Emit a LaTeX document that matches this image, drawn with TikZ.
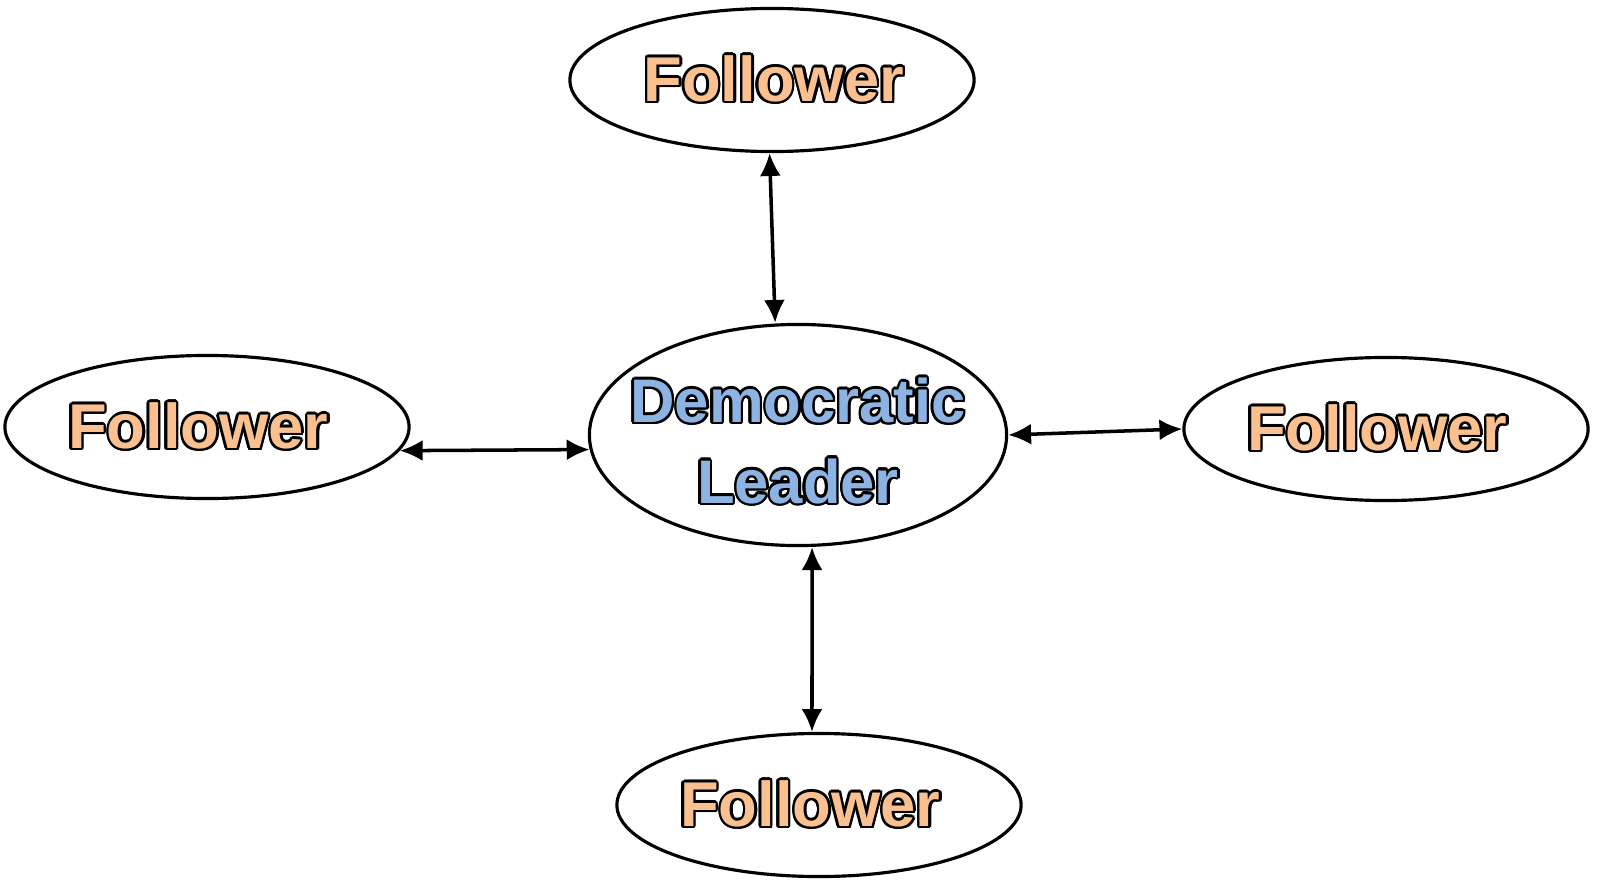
\documentclass[tikz,border=0pt]{standalone}
\usepackage{fontspec}
\setmainfont{Liberation Sans}
\usepackage{contour}
\contourlength{0.7pt}
\usetikzlibrary{shapes.geometric,arrows.meta}
\definecolor{peach}{HTML}{FAC08F}
\definecolor{cornflower}{HTML}{8DB3E2}

\begin{document}
\begin{tikzpicture}[
  x=0.01cm, y=-0.01cm,
  line join=round,
  bubble/.style={draw, ellipse, line width=0.9pt, inner sep=0pt},
  follower/.style={bubble, minimum width=4.04cm, minimum height=1.43cm,
    text=peach, font=\bfseries\fontsize{18}{22}\selectfont},
  leader/.style={bubble, minimum width=4.17cm, minimum height=2.21cm},
  leadtext/.style={text=cornflower, align=center, yshift=-2pt,
    font=\bfseries\fontsize{17.5}{23}\selectfont},
  link/.style={line width=1pt, {Latex[length=6.5pt,width=6pt]}-{Latex[length=6.5pt,width=6pt]}},
]
\useasboundingbox (0,0) rectangle (1600,888);

% ── the leader in the middle ──────────────────────────────────────────────
\node[leader, label={[leadtext]center:{\contour{black}{Democratic}\\\contour{black}{Leader}}}]
  (lead) at (798,435) {};

% ── the four followers round it ───────────────────────────────────────────
\foreach \n/\x/\y/\k in {ftop/772/80/1, fleft/207/427/-5, fright/1386/429/-5, fbot/819/805/-5}
  { \node[follower] (\n) at (\x,\y) {\kern\k pt\contour{black}{Follower}}; }

% ── the two-way links ─────────────────────────────────────────────────────
\draw[link] ([xshift=-0.7pt]ftop.south) -- ([xshift=-6.5pt]lead.north);
\draw[link] (fleft.-7.5) -- (lead.184.4);
\draw[link] (lead.east) -- (fright.west);
\draw[link] ([xshift=4pt]lead.south) -- ([xshift=-2pt]fbot.north);

\end{tikzpicture}
\end{document}
